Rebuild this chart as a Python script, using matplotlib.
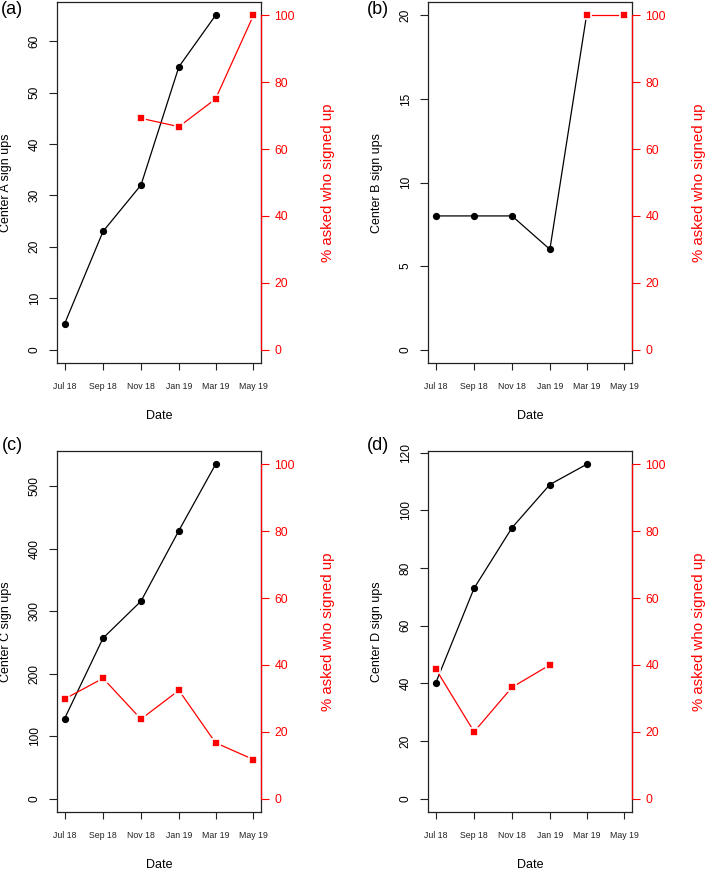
"""Sign ups per center with % of those asked who signed up (four panels)."""

import numpy as np
import pandas as pd
import matplotlib
matplotlib.use("Agg")
import matplotlib.pyplot as plt

plt.rcParams["font.family"] = ["Liberation Sans", "DejaVu Sans"]

# data ---------------------------------------------------------------------
dates = pd.to_datetime(["2018-07-01", "2018-09-01", "2018-11-01",
                        "2019-01-01", "2019-03-01", "2019-05-01"])
date_labels = ["Jul 18", "Sep 18", "Nov 18", "Jan 19", "Mar 19", "May 19"]

signups_a = [5, 23, 32, 55, 65, np.nan]
pct_a = [np.nan, np.nan, 69.2, 66.7, 75.0, 100.0]

signups_b = [8, 8, 8, 6, 20, np.nan]
pct_b = [np.nan, np.nan, np.nan, np.nan, 100.0, 100.0]

signups_c = [128, 257, 316, 429, 535, np.nan]
pct_c = [29.8, 36.0, 23.8, 32.4, 16.7, 11.7]

signups_d = [40, 73, 94, 109, 116, np.nan]
pct_d = [38.9, 20.0, 33.3, 40.0, np.nan, np.nan]

panels = [
    ("(a)", "Center A sign ups", signups_a, pct_a, [0, 10, 20, 30, 40, 50, 60]),
    ("(b)", "Center B sign ups", signups_b, pct_b, [0, 5, 10, 15, 20]),
    ("(c)", "Center C sign ups", signups_c, pct_c, [0, 100, 200, 300, 400, 500]),
    ("(d)", "Center D sign ups", signups_d, pct_d, [0, 20, 40, 60, 80, 100, 120]),
]
pct_ticks = [0, 20, 40, 60, 80, 100]

W, H = 709, 872
lefts = [57 / W, 428 / W]
tops = [2 / H, 451 / H]
ax_w = 204 / W
ax_h = 361 / H
label_pos = [(12, 10), (378, 10), (12, 445), (378, 445)]

BOX = "#222222"
RED = "#ff0000"

fig = plt.figure(figsize=(W / 100, H / 100), dpi=100)

x_num = matplotlib.dates.date2num(dates)
span = x_num[-1] - x_num[0]
xlim = (x_num[0] - 0.04 * span, x_num[-1] + 0.04 * span)

for i, (tag, ylab, signups, pct, yticks) in enumerate(panels):
    col, row = i % 2, i // 2
    ax = fig.add_axes([lefts[col], 1 - tops[row] - ax_h, ax_w, ax_h])

    # left axis: sign ups
    ymax = np.nanmax(signups)
    ax.plot(x_num, signups, color="black", lw=0.9, marker="o", ms=4.2,
            zorder=3)
    ax.set_xlim(*xlim)
    ax.set_ylim(-0.04 * ymax, ymax * 1.04)
    ax.set_xticks(x_num)
    ax.set_xticklabels(date_labels)
    ax.set_yticks(yticks)
    ax.tick_params(axis="x", length=5, width=0.8, color=BOX, pad=9,
                   labelsize=6.3, labelcolor="#222222")
    ax.tick_params(axis="y", length=5.8, width=0.8, color=BOX, pad=6,
                   labelsize=8.6, labelrotation=90)
    for lbl in ax.get_yticklabels():
        lbl.set_va("center")
    for sp in ax.spines.values():
        sp.set_color(BOX)
        sp.set_linewidth(0.9)
    ax.text(0.5, -0.147, "Date", transform=ax.transAxes, ha="center",
            va="center", fontsize=9)
    ax.text(-0.25, 0.5, ylab, transform=ax.transAxes, ha="center",
            va="center", rotation=90, fontsize=9)

    # right axis: percent asked
    ax2 = ax.twinx()
    ax2.plot(x_num, pct, color=RED, lw=0.9, marker="s", ms=5.6,
             mec="white", mew=1.2, mfc=RED, zorder=3)
    ax2.set_ylim(-4, 104)
    ax2.set_yticks(pct_ticks)
    ax2.tick_params(axis="y", length=5.8, width=0.8, color=RED, pad=4,
                    labelsize=8.8, labelcolor=RED)
    for name in ["top", "bottom", "left"]:
        ax2.spines[name].set_visible(False)
    ax2.spines["right"].set_bounds(0, 100)
    ax2.spines["right"].set_color(RED)
    ax2.spines["right"].set_linewidth(0.9)
    ax2.text(1.33, 0.5, "% asked who signed up", transform=ax2.transAxes,
             ha="center", va="center", rotation=90, fontsize=10.8, color=RED)

    px, py = label_pos[i]
    fig.text(px / W, 1 - py / H, tag, ha="center", va="center", fontsize=13)

fig.savefig("out.png", dpi=100)
